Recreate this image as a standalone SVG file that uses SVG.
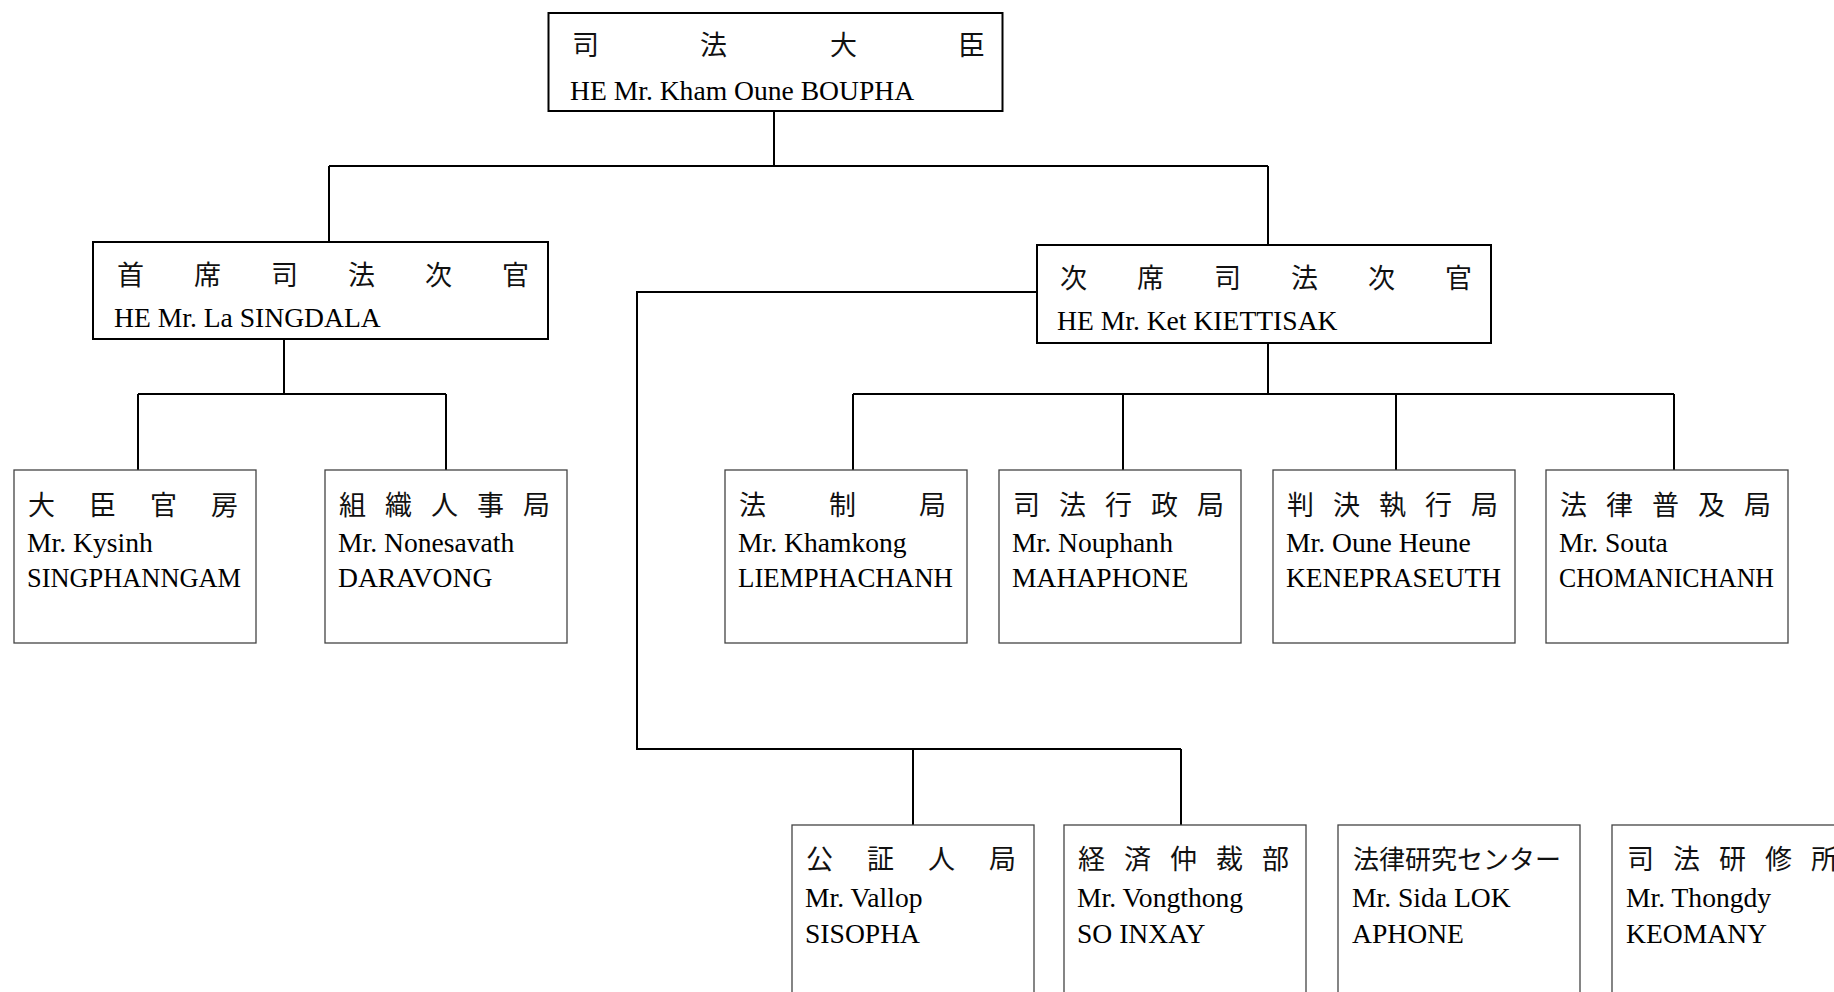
<svg xmlns="http://www.w3.org/2000/svg" width="1834" height="992" viewBox="0 0 1834 992">
<style>
  .bg { fill: #ffffff; }
  .main { fill: #ffffff; stroke: #000000; stroke-width: 2; }
  .sub { fill: #ffffff; stroke: #444444; stroke-width: 1.3; }
  .conn { fill: none; stroke: #000000; stroke-width: 2; }
  .jp { font-family: 'Liberation Serif', 'Noto Sans CJK JP', serif; font-size: 27px; fill: #111111; }
  .en { font-family: 'Liberation Serif', serif; font-size: 27.6px; fill: #000000; }
</style>
<rect class="bg" x="0" y="0" width="1834" height="992"/>

<g id="connectors">
  <path class="conn" d="M774,112 V166"/>
  <path class="conn" d="M329,166 H1268"/>
  <path class="conn" d="M329,166 V242"/>
  <path class="conn" d="M1268,166 V245"/>
  <path class="conn" d="M284,339 V394"/>
  <path class="conn" d="M138,394 H446"/>
  <path class="conn" d="M138,394 V470"/>
  <path class="conn" d="M446,394 V470"/>
  <path class="conn" d="M1268,343 V394"/>
  <path class="conn" d="M853,394 H1674"/>
  <path class="conn" d="M853,394 V470"/>
  <path class="conn" d="M1123,394 V470"/>
  <path class="conn" d="M1396,394 V470"/>
  <path class="conn" d="M1674,394 V470"/>
  <path class="conn" d="M1037,292 H637 V749 H1181"/>
  <path class="conn" d="M913,749 V825"/>
  <path class="conn" d="M1181,749 V825"/>
</g>

<g id="minister">
  <rect class="main" x="548.5" y="13" width="454" height="98"/>
  <text class="jp" x="572 700 830 958" y="55">司法大臣</text>
  <text class="en" x="570" y="100">HE Mr. Kham Oune BOUPHA</text>
</g>

<g id="vice1">
  <rect class="main" x="93" y="242" width="455" height="97"/>
  <text class="jp" x="117 194 271 348 425 502" y="285">首席司法次官</text>
  <text class="en" x="114" y="327">HE Mr. La SINGDALA</text>
</g>

<g id="vice2">
  <rect class="main" x="1037" y="245" width="454" height="98"/>
  <text class="jp" x="1060 1137 1214 1291 1368 1445" y="288">次席司法次官</text>
  <text class="en" x="1057" y="330">HE Mr. Ket KIETTISAK</text>
</g>

<g id="cabinet">
  <rect class="sub" x="14" y="470" width="242" height="173"/>
  <text class="jp" x="28 89 150 211" y="515">大臣官房</text>
  <text class="en" x="27" y="552">Mr. Kysinh</text>
  <text class="en" x="27" y="587" textLength="214" lengthAdjust="spacingAndGlyphs">SINGPHANNGAM</text>
</g>

<g id="personnel">
  <rect class="sub" x="325" y="470" width="242" height="173"/>
  <text class="jp" x="339 385 431 477 523" y="515">組織人事局</text>
  <text class="en" x="338" y="552">Mr. Nonesavath</text>
  <text class="en" x="338" y="587">DARAVONG</text>
</g>

<g id="legislation">
  <rect class="sub" x="725" y="470" width="242" height="173"/>
  <text class="jp" x="739 829 919" y="515">法制局</text>
  <text class="en" x="738" y="552">Mr. Khamkong</text>
  <text class="en" x="738" y="587" textLength="215" lengthAdjust="spacingAndGlyphs">LIEMPHACHANH</text>
</g>

<g id="judicial-admin">
  <rect class="sub" x="999" y="470" width="242" height="173"/>
  <text class="jp" x="1013 1059 1105 1151 1197" y="515">司法行政局</text>
  <text class="en" x="1012" y="552">Mr. Nouphanh</text>
  <text class="en" x="1012" y="587">MAHAPHONE</text>
</g>

<g id="enforcement">
  <rect class="sub" x="1273" y="470" width="242" height="173"/>
  <text class="jp" x="1287 1333 1379 1425 1471" y="515">判決執行局</text>
  <text class="en" x="1286" y="552">Mr. Oune Heune</text>
  <text class="en" x="1286" y="587" textLength="215" lengthAdjust="spacingAndGlyphs">KENEPRASEUTH</text>
</g>

<g id="dissemination">
  <rect class="sub" x="1546" y="470" width="242" height="173"/>
  <text class="jp" x="1560 1606 1652 1698 1744" y="515">法律普及局</text>
  <text class="en" x="1559" y="552">Mr. Souta</text>
  <text class="en" x="1559" y="587" textLength="215" lengthAdjust="spacingAndGlyphs">CHOMANICHANH</text>
</g>

<g id="notary">
  <rect class="sub" x="792" y="825" width="242" height="200"/>
  <text class="jp" x="806 867 928 989" y="869">公証人局</text>
  <text class="en" x="805" y="907">Mr. Vallop</text>
  <text class="en" x="805" y="943">SISOPHA</text>
</g>

<g id="arbitration">
  <rect class="sub" x="1064" y="825" width="242" height="200"/>
  <text class="jp" x="1078 1124 1170 1216 1262" y="869">経済仲裁部</text>
  <text class="en" x="1077" y="907">Mr. Vongthong</text>
  <text class="en" x="1077" y="943">SO INXAY</text>
</g>

<g id="research">
  <rect class="sub" x="1338" y="825" width="242" height="200"/>
  <text class="jp" x="1353" y="869" style="font-size:26px">法律研究センター</text>
  <text class="en" x="1352" y="907">Mr. Sida LOK</text>
  <text class="en" x="1352" y="943">APHONE</text>
</g>

<g id="training">
  <rect class="sub" x="1612" y="825" width="242" height="200"/>
  <text class="jp" x="1627 1673 1719 1765 1811" y="869">司法研修所</text>
  <text class="en" x="1626" y="907">Mr. Thongdy</text>
  <text class="en" x="1626" y="943">KEOMANY</text>
</g>
</svg>
